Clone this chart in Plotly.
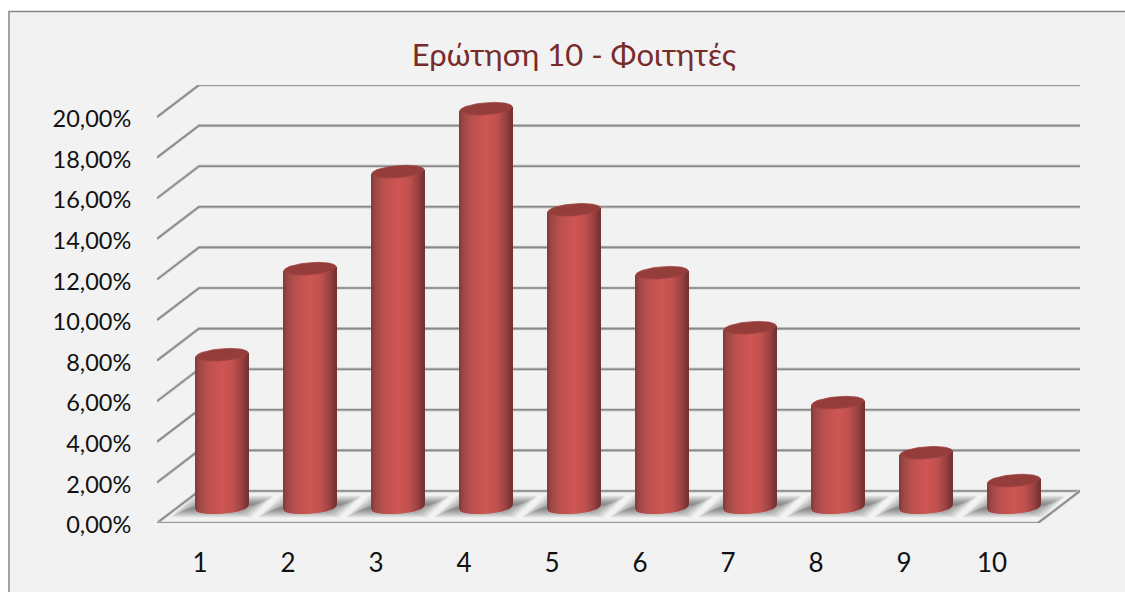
import plotly.graph_objects as go
import numpy as np

# Chart data
categories = [1, 2, 3, 4, 5, 6, 7, 8, 9, 10]
shares = [7.53, 11.77, 16.55, 19.65, 14.67, 11.57, 8.86, 5.17, 2.70, 1.33]
y_ticks = [0, 2, 4, 6, 8, 10, 12, 14, 16, 18, 20]
y_tick_labels = ["0,00%", "2,00%", "4,00%", "6,00%", "8,00%", "10,00%",
                 "12,00%", "14,00%", "16,00%", "18,00%", "20,00%"]
title_text = "Ερώτηση 10 - Φοιτητές"

# Canvas and plot area, in pixels
W, H = 1125, 592
LEFT, RIGHT, TOP, BOTTOM = 157, 45, 85, 69
PX_PER_CAT = 88.0
PX_PER_PCT = 20.3
plot_w = W - LEFT - RIGHT
plot_h = H - TOP - BOTTOM
x_range = [1 - 43 / PX_PER_CAT, 1 - 43 / PX_PER_CAT + plot_w / PX_PER_CAT]
y_range = [0, plot_h / PX_PER_PCT]


def ux(px):
    return px / PX_PER_CAT


def uy(px):
    return px / PX_PER_PCT


# Oblique depth of the floor and of the cylinders standing on it
DEPTH_X, DEPTH_Y = ux(42), uy(32)
CYL_X, CYL_Y = ux(22.0), uy(15.4)
RADIUS_X, RADIUS_Y, TILT = ux(26), uy(6), uy(2)
x_front_left = x_range[0]
x_front_right = x_front_left + ux(881)

FONT = "Lato, Carlito, 'Open Sans', sans-serif"


def mix(stops, t):
    pos = [s[0] for s in stops]
    rgb = [np.interp(t, pos, [s[1][i] for s in stops]) for i in range(3)]
    return "rgb(%d,%d,%d)" % tuple(int(round(c)) for c in rgb)


body_stops = [
    (0.00, (128, 62, 60)),
    (0.08, (156, 72, 70)),
    (0.24, (186, 80, 77)),
    (0.52, (206, 86, 83)),
    (0.72, (192, 81, 78)),
    (0.90, (150, 64, 62)),
    (1.00, (116, 50, 49)),
]

# Cylinder bodies: each one is a run of slim bars shaded across its width
strip_offsets = np.linspace(-1, 1, 52)
strip_w = 2 * RADIUS_X / 51 * 1.2
bar_x, bar_h, bar_base, bar_col = [], [], [], []
for cat, val in zip(categories, shares):
    for u in strip_offsets:
        lower = CYL_Y + TILT * u - RADIUS_Y * np.sqrt(max(0.0, 1 - u * u))
        upper = val + CYL_Y + TILT * u
        bar_x.append(cat + CYL_X + u * RADIUS_X)
        bar_base.append(lower)
        bar_h.append(upper - lower)
        bar_col.append(mix(body_stops, (u + 1) / 2))

fig = go.Figure()
fig.add_trace(go.Bar(
    x=bar_x, y=bar_h, base=bar_base, width=strip_w,
    marker=dict(color=bar_col, line=dict(width=0)),
    hoverinfo="skip", showlegend=False,
))

# Cylinder tops
t = np.linspace(0, 2 * np.pi, 73)
for cat, val in zip(categories, shares):
    fig.add_trace(go.Scatter(
        x=cat + CYL_X + RADIUS_X * np.cos(t),
        y=val + CYL_Y + TILT * np.cos(t) + RADIUS_Y * np.sin(t),
        mode="lines", fill="toself", fillcolor="#953d3b",
        line=dict(color="#a04341", width=0.8),
        hoverinfo="skip", showlegend=False,
    ))

shapes = [dict(
    type="rect", xref="paper", yref="paper", layer="below",
    x0=(9 - LEFT) / plot_w, x1=(W + 20 - LEFT) / plot_w,
    y0=-(H + 20 - plot_h - TOP) / plot_h, y1=(plot_h + TOP - 11.5) / plot_h,
    fillcolor="#f2f2f2", line=dict(color="#868686", width=1.5),
)]

# Soft floor shadows built from nested translucent parallelograms
for cat in categories:
    cx = cat + CYL_X
    for k in range(12):
        inset_x, inset_y = ux(k * 1.4), uy(k * 0.75)
        y_low = CYL_Y - uy(10) + inset_y
        y_high = CYL_Y + uy(12) - inset_y
        path = "M %f %f L %f %f L %f %f L %f %f Z" % (
            cx - ux(52) + inset_x, y_low,
            cx - ux(29) + inset_x, y_high,
            cx + ux(52) - inset_x, y_high,
            cx + ux(29) - inset_x, y_low,
        )
        shapes.append(dict(
            type="path", path=path, xref="x", yref="y", layer="below",
            fillcolor="rgba(0,0,0,0.042)", line=dict(width=0),
        ))


def wall_line(pct, color, width):
    # Side wall diagonal plus back wall line for one tick
    path = "M %f %f L %f %f L %f %f" % (
        x_front_left, pct,
        x_front_left + DEPTH_X, pct + DEPTH_Y,
        x_front_right + DEPTH_X, pct + DEPTH_Y,
    )
    return dict(type="path", path=path, xref="x", yref="y", layer="below",
                line=dict(color=color, width=width))


for tick in y_ticks:
    shapes.append(wall_line(tick, "#cdcdcd", 3.2))
for tick in y_ticks:
    shapes.append(wall_line(tick, "#878787", 1.6))

# Front and right edges of the floor
floor_edge = "M %f 0 L %f 0 L %f %f" % (
    x_front_left, x_front_right, x_front_right + DEPTH_X, DEPTH_Y)
shapes.append(dict(type="path", path=floor_edge, xref="x", yref="y", layer="below",
                   line=dict(color="#cdcdcd", width=3.2)))
shapes.append(dict(type="path", path=floor_edge, xref="x", yref="y", layer="below",
                   line=dict(color="#878787", width=1.6)))

fig.update_layout(
    width=W, height=H,
    margin=dict(l=LEFT, r=RIGHT, t=TOP, b=BOTTOM, autoexpand=False),
    paper_bgcolor="white", plot_bgcolor="rgba(0,0,0,0)",
    barmode="overlay",
    shapes=shapes,
    showlegend=False,
    title=dict(
        text=title_text, x=574 / W, y=1 - 55 / H,
        xanchor="center", yanchor="middle", xref="container", yref="container",
        font=dict(family=FONT, size=31, color="#772c2b"),
    ),
    xaxis=dict(
        range=x_range, tickmode="array", tickvals=categories,
        ticktext=[str(c) for c in categories],
        showgrid=False, zeroline=False, showline=False,
        ticks="outside", ticklen=17, tickcolor="rgba(0,0,0,0)",
        tickfont=dict(family=FONT, size=26, color="#111111"),
    ),
    yaxis=dict(
        range=y_range, tickmode="array", tickvals=y_ticks,
        ticktext=y_tick_labels, ticklabelshift=2,
        showgrid=False, zeroline=False, showline=False,
        ticks="outside", ticklen=20, tickcolor="rgba(0,0,0,0)",
        tickfont=dict(family=FONT, size=23.5, color="#111111"),
    ),
)

fig.write_html("out.html")
